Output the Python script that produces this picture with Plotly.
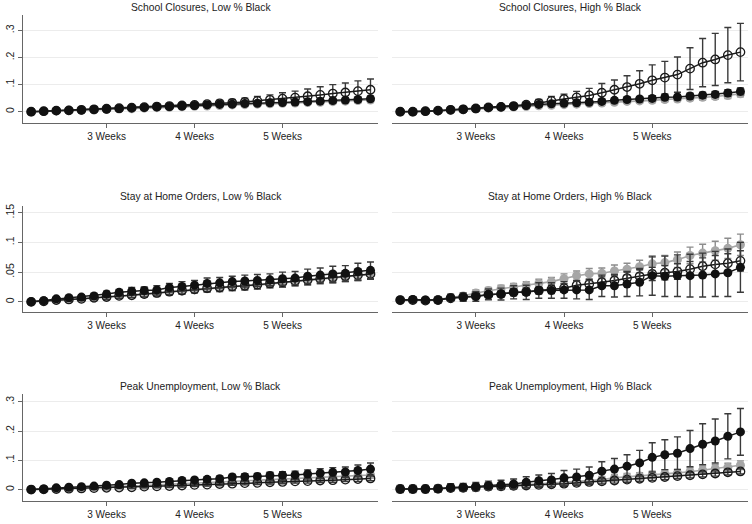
import plotly.graph_objects as go

days = list(range(15, 43))
week_ticks = [21, 28, 35]
week_labels = ["3 Weeks", "4 Weeks", "5 Weeks"]

titles = ["School Closures, Low % Black", "School Closures, High % Black",
          "Stay at Home Orders, Low % Black", "Stay at Home Orders, High % Black",
          "Peak Unemployment, Low % Black", "Peak Unemployment, High % Black"]

# ---- School closures, low % black
sc_low_A = [0.000,0.002,0.004,0.005,0.007,0.009,0.011,0.013,0.015,0.017,0.019,0.021,0.023,0.025,0.028,0.031,0.033,0.036,0.040,0.044,0.048,0.052,0.057,0.062,0.067,0.071,0.076,0.081]
sc_low_A_err = [0.002,0.002,0.003,0.003,0.003,0.004,0.004,0.005,0.005,0.006,0.006,0.007,0.008,0.009,0.010,0.011,0.012,0.014,0.016,0.018,0.022,0.024,0.027,0.030,0.033,0.035,0.038,0.040]
sc_low_B = [0.000,0.002,0.004,0.005,0.006,0.008,0.010,0.012,0.014,0.016,0.018,0.019,0.021,0.023,0.025,0.027,0.028,0.030,0.031,0.033,0.034,0.036,0.037,0.039,0.041,0.043,0.045,0.048]
sc_low_B_err = [0.002,0.002,0.002,0.003,0.003,0.003,0.003,0.004,0.004,0.004,0.004,0.005,0.005,0.005,0.005,0.006,0.006,0.006,0.006,0.007,0.007,0.007,0.007,0.008,0.008,0.008,0.008,0.009]
sc_low_C = [0.000,0.001,0.003,0.004,0.005,0.006,0.008,0.010,0.011,0.013,0.015,0.016,0.018,0.020,0.021,0.023,0.025,0.026,0.028,0.029,0.031,0.032,0.034,0.035,0.037,0.039,0.041,0.043]
sc_low_C_err = [0.002,0.002,0.002,0.002,0.003,0.003,0.003,0.003,0.004,0.004,0.004,0.004,0.005,0.005,0.005,0.005,0.005,0.006,0.006,0.006,0.006,0.007,0.007,0.007,0.007,0.008,0.008,0.008]

# ---- School closures, high % black
sc_high_A = [0.000,0.000,0.002,0.004,0.007,0.009,0.012,0.016,0.018,0.021,0.026,0.032,0.040,0.047,0.053,0.060,0.070,0.081,0.091,0.103,0.116,0.126,0.137,0.159,0.181,0.193,0.209,0.220]
sc_high_A_err = [0.002,0.002,0.002,0.003,0.003,0.004,0.004,0.005,0.006,0.008,0.010,0.013,0.016,0.018,0.022,0.026,0.034,0.036,0.042,0.048,0.057,0.060,0.065,0.077,0.089,0.096,0.102,0.106]
sc_high_B = [0.000,0.000,0.002,0.004,0.007,0.009,0.012,0.016,0.018,0.020,0.023,0.027,0.029,0.031,0.033,0.035,0.038,0.042,0.045,0.047,0.049,0.053,0.054,0.058,0.061,0.064,0.069,0.075]
sc_high_B_err = [0.002,0.002,0.002,0.003,0.003,0.003,0.004,0.004,0.004,0.005,0.005,0.006,0.006,0.006,0.007,0.007,0.007,0.008,0.008,0.008,0.009,0.009,0.010,0.010,0.011,0.011,0.012,0.013]
sc_high_C = [0.000,0.000,0.001,0.003,0.005,0.007,0.010,0.013,0.015,0.017,0.019,0.022,0.024,0.026,0.028,0.030,0.032,0.035,0.038,0.040,0.042,0.045,0.047,0.050,0.053,0.056,0.060,0.066]
sc_high_C_err = [0.002,0.002,0.002,0.002,0.003,0.003,0.003,0.004,0.004,0.004,0.005,0.005,0.005,0.006,0.006,0.006,0.007,0.007,0.007,0.008,0.008,0.008,0.009,0.009,0.010,0.010,0.011,0.011]

# ---- Stay at home orders, low % black
sah_low_A = [0.000,0.001,0.003,0.004,0.005,0.007,0.008,0.010,0.011,0.013,0.015,0.017,0.019,0.021,0.023,0.024,0.026,0.027,0.029,0.031,0.033,0.035,0.037,0.039,0.041,0.043,0.045,0.047]
sah_low_A_err = [0.002,0.002,0.002,0.003,0.003,0.003,0.004,0.004,0.004,0.005,0.005,0.005,0.006,0.006,0.006,0.006,0.007,0.007,0.007,0.007,0.008,0.008,0.008,0.008,0.009,0.009,0.009,0.009]
sah_low_B = [0.000,0.002,0.005,0.007,0.008,0.010,0.013,0.016,0.018,0.019,0.020,0.024,0.026,0.028,0.031,0.032,0.034,0.035,0.036,0.037,0.039,0.040,0.043,0.045,0.047,0.048,0.051,0.053]
sah_low_B_err = [0.002,0.002,0.003,0.003,0.004,0.004,0.005,0.005,0.006,0.006,0.007,0.007,0.008,0.008,0.009,0.009,0.009,0.010,0.010,0.010,0.011,0.011,0.012,0.012,0.013,0.013,0.014,0.014]
sah_low_C = [0.000,0.001,0.003,0.004,0.005,0.006,0.008,0.010,0.012,0.013,0.014,0.017,0.018,0.020,0.022,0.023,0.025,0.027,0.028,0.030,0.032,0.034,0.036,0.038,0.040,0.042,0.044,0.046]
sah_low_C_err = [0.002,0.002,0.002,0.003,0.003,0.003,0.003,0.004,0.004,0.004,0.005,0.005,0.005,0.005,0.006,0.006,0.006,0.006,0.007,0.007,0.007,0.007,0.008,0.008,0.008,0.008,0.008,0.008]

# ---- Stay at home orders, high % black
sah_high_A = [0.003,0.003,0.002,0.003,0.006,0.008,0.010,0.012,0.013,0.016,0.017,0.019,0.021,0.023,0.028,0.030,0.033,0.036,0.040,0.043,0.047,0.049,0.051,0.055,0.060,0.063,0.065,0.069]
sah_high_A_err = [0.003,0.003,0.003,0.003,0.004,0.004,0.004,0.005,0.005,0.006,0.006,0.006,0.007,0.007,0.008,0.008,0.009,0.009,0.010,0.011,0.011,0.012,0.013,0.013,0.014,0.015,0.016,0.017]
sah_high_B = [0.003,0.004,0.003,0.003,0.007,0.008,0.009,0.0125,0.013,0.016,0.016,0.019,0.019,0.020,0.020,0.020,0.027,0.027,0.030,0.033,0.044,0.043,0.044,0.044,0.045,0.047,0.049,0.058]
sah_high_B_err = [0.004,0.004,0.004,0.005,0.006,0.007,0.008,0.009,0.010,0.011,0.012,0.013,0.013,0.014,0.015,0.016,0.018,0.019,0.021,0.023,0.033,0.034,0.035,0.036,0.037,0.038,0.040,0.042]
sah_high_C = [0.002,0.003,0.003,0.004,0.007,0.010,0.015,0.019,0.022,0.025,0.028,0.031,0.034,0.039,0.044,0.047,0.048,0.052,0.055,0.059,0.064,0.066,0.071,0.078,0.082,0.086,0.090,0.096]
sah_high_C_err = [0.003,0.003,0.003,0.003,0.004,0.004,0.005,0.005,0.006,0.006,0.006,0.007,0.007,0.008,0.008,0.009,0.009,0.010,0.010,0.011,0.011,0.012,0.013,0.014,0.015,0.016,0.017,0.018]

# ---- Peak unemployment, low % black
pu_low_A = [0.000,0.001,0.002,0.003,0.004,0.005,0.006,0.007,0.008,0.010,0.011,0.012,0.014,0.016,0.017,0.019,0.020,0.022,0.023,0.025,0.026,0.028,0.029,0.031,0.032,0.034,0.036,0.038]
pu_low_A_err = [0.002,0.002,0.002,0.002,0.003,0.003,0.003,0.003,0.004,0.004,0.004,0.004,0.005,0.005,0.005,0.005,0.005,0.006,0.006,0.006,0.006,0.006,0.007,0.007,0.007,0.007,0.008,0.008]
pu_low_B = [0.000,0.002,0.006,0.008,0.010,0.012,0.015,0.017,0.022,0.023,0.025,0.028,0.031,0.033,0.035,0.037,0.043,0.044,0.045,0.048,0.049,0.050,0.053,0.056,0.059,0.060,0.065,0.070]
pu_low_B_err = [0.002,0.002,0.003,0.003,0.003,0.004,0.004,0.005,0.005,0.006,0.006,0.007,0.007,0.008,0.008,0.009,0.009,0.010,0.010,0.011,0.012,0.013,0.014,0.015,0.016,0.017,0.019,0.021]
pu_low_C = [0.000,0.001,0.004,0.005,0.006,0.008,0.009,0.011,0.013,0.014,0.016,0.018,0.020,0.022,0.023,0.025,0.027,0.029,0.030,0.032,0.034,0.036,0.038,0.040,0.043,0.045,0.047,0.050]
pu_low_C_err = [0.002,0.002,0.002,0.003,0.003,0.003,0.003,0.004,0.004,0.004,0.005,0.005,0.005,0.005,0.006,0.006,0.006,0.007,0.007,0.007,0.008,0.008,0.008,0.009,0.009,0.010,0.010,0.011]

# ---- Peak unemployment, high % black
pu_high_A = [0.002,0.002,0.002,0.003,0.005,0.006,0.008,0.010,0.011,0.013,0.014,0.016,0.018,0.020,0.023,0.026,0.028,0.031,0.034,0.037,0.040,0.043,0.046,0.049,0.052,0.055,0.059,0.062]
pu_high_A_err = [0.009,0.009,0.009,0.009,0.009,0.009,0.009,0.009,0.009,0.009,0.009,0.009,0.009,0.009,0.009,0.009,0.009,0.009,0.009,0.009,0.009,0.009,0.009,0.009,0.009,0.009,0.009,0.009]
pu_high_B = [0.002,0.002,0.002,0.003,0.007,0.008,0.010,0.014,0.016,0.019,0.025,0.030,0.033,0.040,0.043,0.049,0.063,0.070,0.080,0.091,0.110,0.119,0.124,0.140,0.155,0.166,0.182,0.197]
pu_high_B_err = [0.012,0.012,0.012,0.012,0.013,0.013,0.014,0.015,0.016,0.017,0.019,0.020,0.022,0.025,0.027,0.028,0.032,0.036,0.039,0.043,0.050,0.051,0.056,0.062,0.070,0.075,0.077,0.080]
pu_high_C = [0.002,0.002,0.002,0.003,0.006,0.007,0.009,0.012,0.013,0.015,0.017,0.020,0.022,0.025,0.028,0.031,0.034,0.040,0.043,0.046,0.051,0.054,0.057,0.061,0.066,0.071,0.076,0.083]
pu_high_C_err = [0.010,0.010,0.010,0.010,0.010,0.010,0.010,0.010,0.010,0.010,0.010,0.010,0.011,0.011,0.011,0.011,0.011,0.012,0.012,0.012,0.012,0.013,0.013,0.013,0.014,0.014,0.014,0.015]

panels = [
    (sc_low_A, sc_low_A_err, sc_low_B, sc_low_B_err, sc_low_C, sc_low_C_err),
    (sc_high_A, sc_high_A_err, sc_high_B, sc_high_B_err, sc_high_C, sc_high_C_err),
    (sah_low_A, sah_low_A_err, sah_low_B, sah_low_B_err, sah_low_C, sah_low_C_err),
    (sah_high_A, sah_high_A_err, sah_high_B, sah_high_B_err, sah_high_C, sah_high_C_err),
    (pu_low_A, pu_low_A_err, pu_low_B, pu_low_B_err, pu_low_C, pu_low_C_err),
    (pu_high_A, pu_high_A_err, pu_high_B, pu_high_B_err, pu_high_C, pu_high_C_err),
]

row_yticks = [[0, 0.1, 0.2, 0.3], [0, 0.05, 0.1, 0.15], [0, 0.1, 0.2, 0.3]]
row_ylabels = [["0", ".1", ".2", ".3"], ["0", ".05", ".1", ".15"], ["0", ".1", ".2", ".3"]]
row_yrange = [[-0.040, 0.357], [-0.0168, 0.161], [-0.039, 0.325]]
row_ydomain = [[0.7787, 1.0], [0.3893, 0.6066], [0.0, 0.2193]]
col_xdomain = [[0.0, 0.4897], [0.509, 1.0]]
title_y = [1.0164, 0.6256, 0.2363]

FONT = "Liberation Sans, Arial, Helvetica, sans-serif"
fig = go.Figure()
layout = {}
annotations = []

for i, (A, Ae, B, Be, C, Ce) in enumerate(panels):
    r, c = divmod(i, 2)
    n = i + 1
    xa = "x" if n == 1 else f"x{n}"
    ya = "y" if n == 1 else f"y{n}"
    common = dict(x=days, xaxis=xa, yaxis=ya, mode="lines+markers", showlegend=False,
                  hoverinfo="skip")
    # gray filled
    fig.add_trace(go.Scatter(y=C, **common,
                             line=dict(color="#a6a6a6", width=1.6),
                             marker=dict(symbol="circle", size=9, color="#a6a6a6"),
                             error_y=dict(type="data", array=Ce, color="#8c8c8c",
                                          thickness=1.4, width=3.5)))
    # hollow black
    fig.add_trace(go.Scatter(y=A, **common,
                             line=dict(color="#1a1a1a", width=1.5),
                             marker=dict(symbol="circle-open", size=8.5, color="#1a1a1a",
                                         line=dict(width=1.3)),
                             error_y=dict(type="data", array=Ae, color="#3a3a3a",
                                          thickness=1.4, width=3.5)))
    # filled black
    fig.add_trace(go.Scatter(y=B, **common,
                             line=dict(color="#1a1a1a", width=1.5),
                             marker=dict(symbol="circle", size=9, color="#111111"),
                             error_y=dict(type="data", array=Be, color="#3a3a3a",
                                          thickness=1.4, width=3.5)))

    xkey = "xaxis" if n == 1 else f"xaxis{n}"
    ykey = "yaxis" if n == 1 else f"yaxis{n}"
    layout[xkey] = dict(domain=col_xdomain[c], anchor=ya, range=[14.35, 42.6],
                        tickvals=week_ticks, ticktext=week_labels,
                        ticks="outside", ticklen=4, tickwidth=1, tickcolor="#666",
                        showline=True, linecolor="#666", linewidth=1,
                        showgrid=False, zeroline=False,
                        tickfont=dict(family=FONT, size=10, color="#222"))
    layout[ykey] = dict(domain=row_ydomain[r], anchor=xa, range=row_yrange[r],
                        tickvals=row_yticks[r], ticktext=row_ylabels[r],
                        showgrid=True, gridcolor="#ececec", gridwidth=1,
                        zeroline=False,
                        showline=(c == 0), linecolor="#666", linewidth=1,
                        ticks="outside" if c == 0 else "", ticklen=4, tickwidth=1,
                        tickcolor="#666", showticklabels=(c == 0), tickangle=-90,
                        tickfont=dict(family=FONT, size=10.5, color="#222"))
    annotations.append(dict(text=titles[i], xref="paper", yref="paper",
                            x=sum(col_xdomain[c]) / 2, y=title_y[r],
                            xanchor="center", yanchor="middle", showarrow=False,
                            font=dict(family=FONT, size=10.3, color="#222")))

fig.update_layout(**layout)
fig.update_layout(width=752, height=524, margin=dict(l=23, r=4, t=15, b=21),
                  paper_bgcolor="white", plot_bgcolor="white",
                  annotations=annotations, showlegend=False,
                  font=dict(family=FONT))
fig.write_html("out.html", config={"displayModeBar": False},
               post_script="document.body.style.margin='0';document.body.style.overflow='hidden';")
